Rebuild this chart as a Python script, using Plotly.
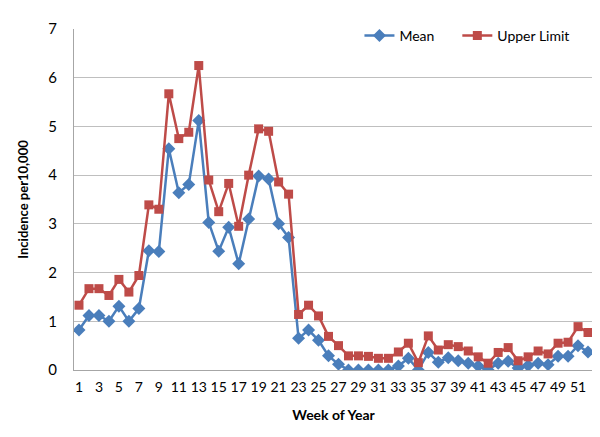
import plotly.graph_objects as go

weeks = list(range(1, 53))
mean_vals = [0.82, 1.12, 1.12, 1.00, 1.31, 1.00, 1.26, 2.45, 2.43, 4.54,
             3.64, 3.81, 5.12, 3.03, 2.44, 2.93, 2.18, 3.10, 3.98, 3.92,
             3.00, 2.72, 0.65, 0.82, 0.61, 0.29, 0.12, 0.00, 0.00, 0.00,
             0.00, 0.00, 0.08, 0.24, 0.00, 0.36, 0.16, 0.25, 0.19, 0.14,
             0.08, 0.00, 0.14, 0.18, 0.04, 0.09, 0.14, 0.11, 0.28, 0.28,
             0.50, 0.37]
upper_vals = [1.33, 1.67, 1.67, 1.53, 1.86, 1.60, 1.94, 3.39, 3.30, 5.67,
              4.75, 4.88, 6.25, 3.90, 3.25, 3.83, 2.95, 4.00, 4.95, 4.90,
              3.86, 3.61, 1.14, 1.33, 1.11, 0.69, 0.50, 0.29, 0.29, 0.28,
              0.24, 0.24, 0.37, 0.55, 0.15, 0.70, 0.41, 0.52, 0.48, 0.39,
              0.27, 0.14, 0.36, 0.46, 0.19, 0.27, 0.39, 0.33, 0.55, 0.57,
              0.89, 0.77]
x_ticks = list(range(1, 53, 2))
y_ticks = list(range(0, 8))

FONT = "Lato"
fig = go.Figure()
fig.add_trace(go.Scatter(
    x=weeks, y=mean_vals, name="Mean" + "\u00a0" * 5, mode="lines+markers",
    line=dict(color="#4A7EBB", width=2.5),
    marker=dict(symbol="diamond", size=10, color="#4A7EBB")))
fig.add_trace(go.Scatter(
    x=weeks, y=upper_vals, name="Upper Limit", mode="lines+markers",
    line=dict(color="#BE4B48", width=2.5),
    marker=dict(symbol="square", size=9, color="#BE4B48")))

fig.update_layout(
    width=600, height=437,
    margin=dict(l=66, r=15, t=19, b=75),
    paper_bgcolor="white", plot_bgcolor="white",
    font=dict(family=FONT, size=14, color="#000000"),
    showlegend=True,
    legend=dict(orientation="h", x=0.55, y=1.027, xanchor="left", yanchor="top",
                font=dict(family=FONT, size=14, color="#000000"),
                bgcolor="rgba(0,0,0,0)", itemwidth=30, tracegroupgap=0),
    xaxis=dict(range=[0.5, 52.5], tickmode="array", tickvals=x_ticks,
               ticktext=[str(v) for v in x_ticks], showgrid=False,
               showline=True, linecolor="#A6A6A6", linewidth=1,
               ticks="", zeroline=False, ticklabelstandoff=4,
               tickfont=dict(size=14),
               title=dict(text="<b>Week of Year</b>", font=dict(size=14), standoff=16)),
    yaxis=dict(range=[0, 7], tickmode="array", tickvals=y_ticks,
               showgrid=True, gridcolor="#BFBFBF", gridwidth=1,
               showline=True, linecolor="#A6A6A6", linewidth=1,
               ticks="", zeroline=False, ticklabelstandoff=13,
               tickfont=dict(size=15),
               title=dict(text="<b>Incidence per10,000</b>", font=dict(size=13), standoff=16)),
)

fig.write_html("out.html")
